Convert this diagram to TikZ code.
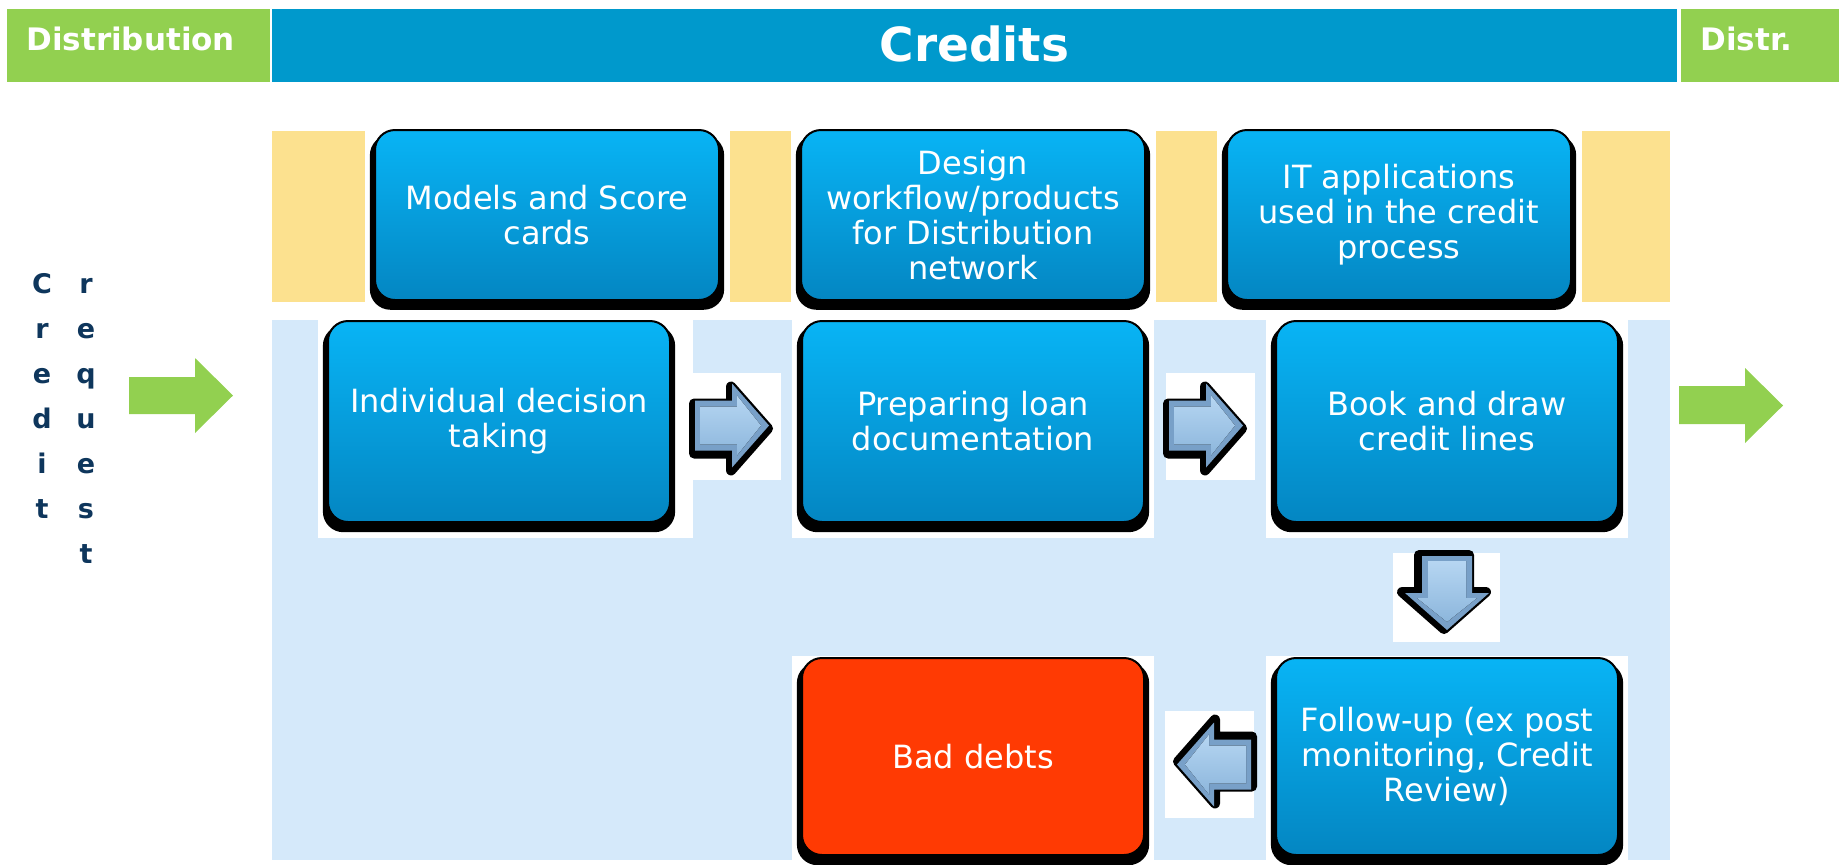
\documentclass[tikz,border=0pt]{standalone}
\usepackage{fontspec}
\setmainfont{DejaVu Sans}
\usepackage{tikz}
\usetikzlibrary{positioning,calc,shadows,backgrounds}

\definecolor{hdblue}{RGB}{0,153,204}
\definecolor{hdgreen}{RGB}{146,208,80}
\definecolor{bandyellow}{RGB}{252,225,143}
\definecolor{bandblue}{RGB}{213,233,250}
\definecolor{boxtop}{RGB}{8,180,245}
\definecolor{boxbot}{RGB}{4,134,194}
\definecolor{baddebt}{RGB}{255,58,3}
\definecolor{navy}{RGB}{14,54,92}
\definecolor{arrowedge}{RGB}{120,160,200}
\definecolor{arrowlight}{RGB}{182,214,242}
\definecolor{arrowdark}{RGB}{140,182,220}

\tikzset{
  stepbox/.style={rectangle, rounded corners=10pt, draw=black, line width=1pt,
    top color=boxtop, bottom color=boxbot, text=white, align=center,
    font=\fontsize{16}{17.5}\selectfont, minimum width=171pt, minimum height=100.5pt,
    general shadow={fill=black, shadow scale=1.03, shadow yshift=-3.5pt}},
  topbox/.style={stepbox, minimum width=172pt, minimum height=85pt},
  lossbox/.style={stepbox, top color=baddebt, bottom color=baddebt, minimum height=98.5pt},
  headbar/.style={rectangle, text=white, inner ysep=0pt, minimum height=36.5pt,
    font=\bfseries\fontsize{15.5}{18}\selectfont},
  reqletter/.style={text=navy, inner sep=0pt, anchor=base,
    font=\bfseries\fontsize{13.5}{15}\selectfont},
  pics/bevelarrow/.style={code={
    \fill[white] (-40,-53) rectangle (49,54);
    \filldraw[black, line width=5pt, line join=round, shift={(-1,3)}]
      (-37,-25) -- (0,-25) -- (0,-42) -- (37,0) -- (0,42) -- (0,25) -- (-37,25) -- cycle;
    \fill[arrowedge]
      (-37,-25) -- (0,-25) -- (0,-42) -- (37,0) -- (0,42) -- (0,25) -- (-37,25) -- cycle;
    \fill[top color=arrowlight, bottom color=arrowdark]
      (-32,-19) -- (5,-19) -- (5,-30) -- (29,0) -- (5,30) -- (5,19) -- (-32,19) -- cycle;
  }}
}

\begin{document}
\begin{tikzpicture}[x=0.5pt, y=-0.5pt, node distance=65pt]
    \useasboundingbox (0,0) rectangle (1839,864);

    % header
    \node[headbar, fill=hdgreen, anchor=north west, text width=112.5pt, inner xsep=9.5pt,
          text height=11.5pt, text depth=7pt, align=left]  (distin)  at (7,9)     {Distribution};
    \node[headbar, fill=hdblue, minimum width=702.5pt, text depth=2pt,
          font=\bfseries\fontsize{23.5}{28}\selectfont] (credits) at (974.5,45.5) {Credits};
    \node[headbar, fill=hdgreen, anchor=north west, text width=60pt, inner xsep=9.5pt,
          text height=11.5pt, text depth=7pt, align=left]  (distout) at (1681,9)  {Distr.};

    % process boxes
    \node[stepbox]                  (indiv)                       at (499,421.5) {Individual decision\\taking};
    \node[stepbox]                  (prep)    [right=of indiv]    {Preparing loan\\documentation};
    \node[stepbox]                  (book)    [right=of prep]     {Book and draw\\credit lines};
    \node[stepbox, minimum height=98.5pt] (follow) [below=67pt of book] {Follow-up (ex post\\monitoring, Credit\\Review)};
    \node[lossbox]                  (bad)     [left=of follow]    {Bad debts};
    \node[topbox]                   (design)  [above=9.5pt of prep]   {Design\\workflow/products\\for Distribution\\network};
    \node[topbox]                   (models)  [left=40pt of design]   {Models and Score\\cards};
    \node[topbox]                   (itapps)  [right=40pt of design]  {IT applications\\used in the credit\\process};

    % credit request
    \foreach \ch [count=\k] in {C,r,e,d,i,t}
        \node[reqletter] (reqa\k) at (42,248+45*\k) {\ch};
    \foreach \ch [count=\k] in {r,e,q,u,e,s,t}
        \node[reqletter] (reqb\k) at (86,248+45*\k) {\ch};

    \fill[hdgreen] (129,377) -- (195,377) -- (195,358) -- (233,395.5) -- (195,433) -- (195,414) -- (129,414) -- cycle;
    \fill[hdgreen] (1679,386) -- (1745,386) -- (1745,368) -- (1783,405.5) -- (1745,443) -- (1745,424) -- (1679,424) -- cycle;

    \begin{scope}[on background layer]
        \fill[bandyellow] (272,131) rectangle (1670,302);
        \fill[bandblue]   (272,320) rectangle (1670,860);
        \foreach \n in {models,design,itapps}
            \fill[white] ([shift={(-9,-2)}]\n.north west) rectangle ([shift={(10,1)}]\n.south east);
        \foreach \n in {prep,book,follow,bad}
            \fill[white] ([shift={(-9,-1)}]\n.north west) rectangle ([shift={(9,15)}]\n.south east);
        \fill[white] ([shift={(-9,-1)}]indiv.north west) rectangle ([shift={(22,15)}]indiv.south east);
    \end{scope}

    % block arrows between the steps
    \pic               (arwa) at ($(indiv.east)!0.5!(prep.west)+(-4,4)$)    {bevelarrow};
    \pic               (arwb) at ($(prep.east)!0.5!(book.west)+(-4,4)$)     {bevelarrow};
    \pic[rotate=-90]   (arwc) at ($(book.south)!0.5!(follow.north)+(0,3)$)  {bevelarrow};
    \pic[rotate=180]   (arwd) at ($(follow.west)!0.5!(bad.east)+(4,8)$)     {bevelarrow};
\end{tikzpicture}
\end{document}
